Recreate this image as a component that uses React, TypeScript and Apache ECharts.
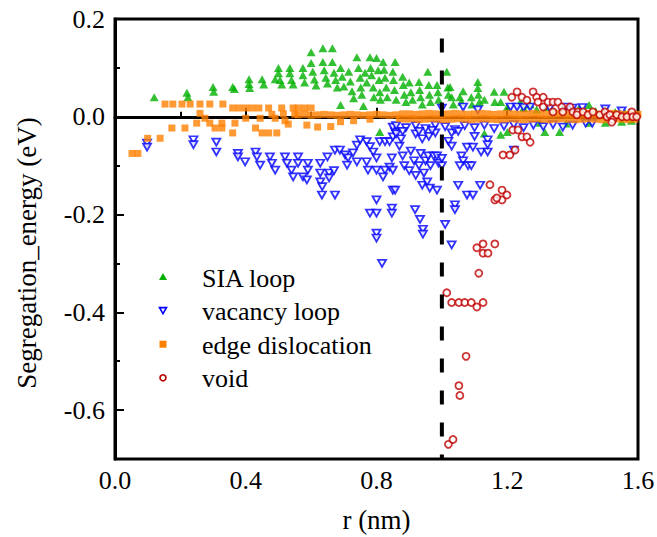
import React, { useEffect, useRef } from "react";
import * as echarts from "echarts";

const FONT = "Liberation Serif";

const seriesNames = ["SIA loop", "vacancy loop", "edge dislocation", "void"];
const xTickLabels = [0, 0.4, 0.8, 1.2, 1.6];
const yMajorTicks = [0.2, 0, -0.2, -0.4, -0.6];
const yMinorTicks = [0.1, -0.1, -0.3, -0.5];
const xAxisTitle = "r (nm)";
const yAxisTitle = "Segregation_energy (eV)";
const dashX = [1.0, 1.0];
const dashY = [0.16, -0.7];

const siaLoop = [
  [0.12, 0.04], [0.22, 0.049], [0.223, 0.04], [0.3, 0.061], [0.302, 0.051],
  [0.36, 0.061], [0.365, 0.057], [0.41, 0.077], [0.41, 0.067], [0.412, 0.059],
  [0.45, 0.077], [0.455, 0.066], [0.49, 0.077], [0.5, 0.1], [0.5, 0.089],
  [0.505, 0.075], [0.51, 0.066], [0.535, 0.1], [0.535, 0.089], [0.54, 0.075],
  [0.545, 0.066], [0.575, 0.1], [0.575, 0.085], [0.58, 0.07], [0.6, 0.132],
  [0.6, 0.11], [0.605, 0.092], [0.61, 0.076], [0.615, 0.064], [0.636, 0.14],
  [0.636, 0.112], [0.64, 0.095], [0.645, 0.08], [0.65, 0.068], [0.665, 0.14],
  [0.665, 0.112], [0.67, 0.09], [0.675, 0.075], [0.68, 0.06], [0.69, 0.1],
  [0.695, 0.082], [0.7, 0.062], [0.69, 0.024], [0.715, 0.092], [0.72, 0.072],
  [0.725, 0.052], [0.73, 0.038], [0.74, 0.122], [0.745, 0.1], [0.75, 0.08],
  [0.752, 0.06], [0.755, 0.045], [0.76, 0.022], [0.765, 0.09], [0.77, 0.07],
  [0.78, 0.122], [0.782, 0.1], [0.785, 0.085], [0.79, 0.06], [0.792, 0.04],
  [0.8, 0.12], [0.805, 0.095], [0.808, 0.075], [0.81, 0.05], [0.812, 0.035],
  [0.81, -0.031], [0.82, 0.112], [0.823, 0.096], [0.826, 0.08], [0.83, 0.06],
  [0.833, 0.04], [0.85, 0.092], [0.852, 0.075], [0.855, 0.055], [0.86, 0.035],
  [0.857, 0.112], [0.88, 0.082], [0.882, 0.065], [0.885, 0.045], [0.89, 0.03],
  [0.9, 0.07], [0.905, 0.05], [0.91, 0.035], [0.93, 0.071], [0.932, 0.055],
  [0.935, 0.04], [0.94, 0.025], [0.957, 0.092], [0.96, 0.065], [0.962, 0.045],
  [0.965, 0.03], [0.985, 0.065], [0.988, 0.05], [0.99, 0.035], [1.015, 0.092],
  [1.018, 0.06], [1.02, 0.045], [1.025, 0.061], [1.03, 0.04], [1.035, 0.025],
  [1.055, 0.04], [1.06, 0.03], [1.065, 0.052], [1.09, 0.04], [1.092, 0.025],
  [1.11, 0.071], [1.11, 0.059], [1.112, 0.045], [1.115, 0.03], [1.13, 0.035],
  [1.13, -0.034], [1.16, 0.051], [1.162, 0.03], [1.18, 0.03], [1.18, -0.037],
  [1.19, 0.051], [1.2, 0.02], [1.2, -0.031], [1.24, 0.03], [1.25, 0.018],
  [1.27, 0.025], [1.29, 0.015], [1.315, -0.031], [1.32, 0.02], [1.34, 0.012],
  [1.36, -0.031], [1.37, 0.018], [1.4, 0.012], [1.42, 0.018], [1.45, 0.024],
  [1.47, 0.012], [1.5, 0.014], [1.53, 0.01], [1.56, 0.008], [1.59, 0.006],
  [1.3, -0.012], [1.38, -0.014], [1.45, -0.012], [1.5, -0.012], [1.55, -0.01],
  [1.58, -0.008],
];

const vacancyLoop = [
  [0.098, -0.054], [0.098, -0.062], [0.24, -0.047], [0.24, -0.057], [0.31, -0.052],
  [0.31, -0.072], [0.376, -0.075], [0.376, -0.082], [0.398, -0.092], [0.43, -0.072],
  [0.434, -0.082], [0.444, -0.099], [0.474, -0.082], [0.48, -0.095], [0.49, -0.109],
  [0.52, -0.082], [0.526, -0.095], [0.54, -0.109], [0.545, -0.123], [0.56, -0.082],
  [0.56, -0.095], [0.59, -0.095], [0.59, -0.109], [0.575, -0.123], [0.587, -0.129],
  [0.628, -0.095], [0.628, -0.115], [0.628, -0.133], [0.634, -0.143], [0.65, -0.082],
  [0.655, -0.115], [0.655, -0.125], [0.67, -0.11], [0.633, -0.16], [0.673, -0.16],
  [0.673, -0.068], [0.688, -0.068], [0.704, -0.078], [0.713, -0.084], [0.728, -0.074],
  [0.74, -0.058], [0.75, -0.047], [0.77, -0.051], [0.78, -0.061], [0.79, -0.072],
  [0.8, -0.084], [0.81, -0.051], [0.826, -0.051], [0.84, -0.051], [0.85, -0.041],
  [0.857, -0.031], [0.85, -0.021], [0.71, -0.099], [0.74, -0.092], [0.77, -0.092],
  [0.774, -0.109], [0.8, -0.109], [0.826, -0.109], [0.84, -0.103], [0.847, -0.084],
  [0.85, -0.109], [0.82, -0.123], [0.8, -0.17], [0.78, -0.197], [0.8, -0.197],
  [0.8, -0.238], [0.8, -0.248], [0.817, -0.3], [0.847, -0.187], [0.847, -0.197],
  [0.85, -0.15], [0.857, -0.15], [0.918, -0.19], [0.933, -0.21], [0.942, -0.23],
  [0.942, -0.24], [1.01, -0.22], [1.03, -0.262], [1.04, -0.18], [1.04, -0.19],
  [1.05, -0.14], [1.077, -0.16], [1.095, -0.16], [1.117, -0.14], [0.94, -0.14],
  [0.955, -0.133], [0.963, -0.146], [0.985, -0.15], [0.87, -0.06], [0.88, -0.08],
  [0.885, -0.1], [0.9, -0.11], [0.905, -0.07], [0.915, -0.09], [0.92, -0.12],
  [0.93, -0.1], [0.935, -0.075], [0.945, -0.115], [0.95, -0.09], [0.958, -0.08],
  [0.965, -0.1], [0.975, -0.08], [0.985, -0.08], [0.99, -0.095], [1.0, -0.1],
  [1.0, -0.085], [1.06, -0.08], [1.065, -0.09], [1.055, -0.1], [1.077, -0.062],
  [1.095, -0.062], [1.08, -0.1], [1.09, -0.1], [1.12, -0.072], [1.14, -0.072],
  [1.14, -0.047], [1.14, -0.057], [1.22, -0.068], [1.02, -0.05], [1.03, -0.06],
  [1.1, -0.04], [0.86, -0.035], [0.875, -0.045], [0.92, -0.035], [0.94, -0.045],
  [0.96, -0.04], [0.98, -0.033], [1.03, -0.033],
  [0.86, -0.018], [0.89, -0.022], [0.92, -0.018], [0.95, -0.024], [0.98, -0.017],
  [1.01, -0.02], [1.04, -0.026], [1.07, -0.018], [1.1, -0.022], [1.13, -0.017],
  [1.16, -0.024], [1.19, -0.019], [1.22, -0.016], [1.25, -0.022], [1.28, -0.017],
  [1.31, -0.02], [1.34, -0.016], [1.37, -0.021], [1.4, -0.017], [1.44, -0.013],
  [1.46, -0.013], [0.88, -0.03], [0.93, -0.03], [0.97, -0.028], [1.05, -0.03],
  [1.0, 0.018], [1.065, 0.02], [1.11, 0.014], [1.21, 0.02], [1.23, 0.02],
  [1.25, 0.019], [1.27, 0.02], [1.33, 0.018], [1.38, 0.02], [1.4, 0.018],
  [1.43, 0.019], [1.5, 0.016], [1.55, 0.012],
];

const edgeDislocation = [
  [0.052, -0.075], [0.07, -0.075], [0.1, -0.044], [0.138, -0.044], [0.174, -0.023],
  [0.214, -0.023], [0.153, 0.026], [0.177, 0.026], [0.205, 0.026], [0.23, 0.026],
  [0.26, 0.026], [0.29, 0.026], [0.33, 0.026], [0.25, -0.013], [0.26, 0.007],
  [0.275, -0.003], [0.29, -0.013], [0.306, -0.023], [0.327, -0.013], [0.327, -0.023],
  [0.367, -0.013], [0.36, -0.033], [0.36, 0.018], [0.38, 0.018], [0.4, 0.018],
  [0.42, 0.018], [0.44, 0.018], [0.47, 0.018], [0.4, -0.003], [0.444, -0.003],
  [0.43, -0.023], [0.45, -0.033], [0.495, -0.033], [0.47, -0.033], [0.48, 0.005],
  [0.49, -0.003], [0.51, 0.018], [0.515, 0.006], [0.52, -0.008], [0.53, -0.015],
  [0.545, 0.018], [0.55, 0.005], [0.56, 0.018], [0.58, 0.018], [0.6, 0.018],
  [0.587, -0.017], [0.62, -0.021], [0.66, -0.02], [0.69, -0.01], [0.73, -0.008],
  [0.78, -0.005],
  [0.56, 0.004], [0.58, 0.005], [0.6, 0.003], [0.62, 0.004], [0.64, 0.005],
  [0.66, 0.004], [0.68, 0.003], [0.7, 0.004], [0.72, 0.005], [0.74, 0.004],
  [0.76, 0.003], [0.78, 0.004], [0.8, 0.005], [0.82, 0.004], [0.84, 0.003],
  [0.86, 0.004], [0.88, 0.006], [0.9, 0.006], [0.92, 0.005], [0.94, 0.006],
  [0.96, 0.007], [0.98, 0.006], [1.0, 0.005], [1.02, 0.006], [1.04, 0.007],
  [1.06, 0.006], [1.08, 0.005], [1.1, 0.006], [1.12, 0.007], [1.14, 0.006],
  [1.16, 0.005], [1.18, 0.006], [1.2, 0.007], [1.22, 0.006], [1.24, 0.005],
  [1.26, 0.006], [1.28, 0.007], [1.3, 0.006], [1.32, 0.005], [1.34, 0.006],
  [1.36, 0.007], [1.38, 0.006], [1.4, 0.005], [1.42, 0.006], [1.44, 0.007],
  [1.46, 0.006], [1.48, 0.005], [1.5, 0.006], [1.52, 0.007], [1.54, 0.006],
  [1.56, 0.005], [1.58, 0.006], [1.6, 0.005],
  [0.87, -0.004], [0.89, -0.005], [0.91, -0.004], [0.93, -0.006], [0.95, -0.005],
  [0.97, -0.004], [0.99, -0.005], [1.01, -0.006], [1.03, -0.005], [1.05, -0.004],
  [1.07, -0.005], [1.09, -0.006], [1.11, -0.005], [1.13, -0.004], [1.15, -0.005],
  [1.17, -0.006], [1.19, -0.005], [1.21, -0.004], [1.23, -0.005], [1.25, -0.006],
  [1.27, -0.005], [1.29, -0.004], [1.31, -0.005], [1.33, -0.006], [1.35, -0.005],
  [1.37, -0.004], [1.39, -0.005], [1.41, -0.006], [1.43, -0.005], [1.45, -0.004],
  [1.47, -0.005], [1.49, -0.006], [1.51, -0.005], [1.53, -0.004], [1.55, -0.005],
  [1.57, -0.006], [1.59, -0.005],
];

const voidPts = [
  [1.015, -0.36], [1.03, -0.38], [1.052, -0.38], [1.07, -0.38], [1.09, -0.38],
  [1.107, -0.389], [1.126, -0.38], [1.074, -0.49], [1.052, -0.55], [1.055, -0.57],
  [1.02, -0.67], [1.034, -0.66], [1.113, -0.32], [1.107, -0.268], [1.126, -0.26],
  [1.126, -0.279], [1.141, -0.279], [1.162, -0.26], [1.147, -0.139], [1.184, -0.15],
  [1.162, -0.17], [1.184, -0.17], [1.199, -0.16], [1.168, -0.166], [1.187, -0.078],
  [1.208, -0.078], [1.224, -0.068], [1.217, -0.027], [1.233, -0.027], [1.245, -0.041],
  [1.26, -0.041], [1.27, -0.052],
  [1.214, 0.04], [1.23, 0.051], [1.245, 0.04], [1.26, 0.034], [1.279, 0.051],
  [1.29, 0.04], [1.31, 0.04], [1.294, 0.03], [1.31, 0.02], [1.325, 0.03],
  [1.34, 0.03], [1.355, 0.03], [1.34, 0.01], [1.367, 0.02], [1.37, 0.01],
  [1.392, 0.02], [1.401, 0.01], [1.416, 0.01], [1.413, 0.004], [1.432, 0.01],
  [1.447, 0.004], [1.462, 0.01], [1.483, 0.004], [1.499, 0.01], [1.505, 0.0],
  [1.514, 0.004], [1.523, -0.006], [1.535, 0.004], [1.551, 0.0], [1.566, 0.0],
  [1.581, 0.01], [1.584, 0.0], [1.596, 0.0], [1.52, -0.011],
];

const black = "#000";
const GREEN = "#00b000";
const BLUE = "#0000ff";
const ORANGE = "#ff8000";
const RED = "#c00000";
const DOWN_TRIANGLE = "path://M0,0L10,0L5,9Z";

const fmt = (v: number) => (Math.abs(v) < 1e-9 ? "0.0" : v.toFixed(1));

export default function App() {
  const ref = useRef<HTMLDivElement>(null);
  useEffect(() => {
    document.body.style.margin = "0";
    const chart = echarts.init(ref.current!, null, { renderer: "svg" });
    const tickLine = { color: black, width: 2 };
    chart.setOption({
      animation: false,
      backgroundColor: "#fff",
      grid: {
        left: 115, right: 19, top: 19, bottom: 78,
        show: true, borderColor: black, borderWidth: 3, backgroundColor: "transparent",
      },
      xAxis: {
        type: "value",
        min: xTickLabels[0],
        max: xTickLabels[xTickLabels.length - 1],
        interval: 0.4,
        axisLine: { show: true, lineStyle: { color: black, width: 3 } },
        axisTick: { show: true, inside: true, length: 9, lineStyle: tickLine },
        minorTick: { show: true, splitNumber: 2, length: 5, lineStyle: tickLine },
        axisLabel: { show: false },
        splitLine: { show: false },
        minorSplitLine: { show: false },
      },
      yAxis: [
        {
          type: "value",
          min: -0.7,
          max: 0.2,
          position: "left",
          axisLine: { show: true, lineStyle: { color: black, width: 3 } },
          axisTick: { show: true, inside: true, length: 9, lineStyle: tickLine, customValues: yMajorTicks },
          axisLabel: { show: false },
          splitLine: { show: false },
        },
        {
          type: "value",
          min: -0.7,
          max: 0.2,
          position: "left",
          axisLine: { show: false },
          axisTick: { show: true, inside: true, length: 5, lineStyle: tickLine, customValues: yMinorTicks },
          axisLabel: { show: false },
          splitLine: { show: false },
        },
      ],
      series: [
        {
          name: seriesNames[0], type: "scatter", data: siaLoop,
          symbol: "triangle", symbolSize: [9, 8],
          itemStyle: { color: GREEN },
        },
        {
          name: seriesNames[1], type: "scatter", data: vacancyLoop,
          symbol: DOWN_TRIANGLE, symbolSize: [8, 7],
          itemStyle: { color: "#fff", borderColor: BLUE, borderWidth: 1.8 },
        },
        {
          name: seriesNames[2], type: "scatter", data: edgeDislocation,
          symbol: "rect", symbolSize: 7,
          itemStyle: { color: ORANGE },
        },
        {
          name: seriesNames[3], type: "scatter", data: voidPts,
          symbol: "circle", symbolSize: 7,
          itemStyle: { color: "#fff", borderColor: RED, borderWidth: 1.8 },
        },
        {
          type: "line",
          data: dashX.map((x, i) => [x, dashY[i]]),
          symbol: "none",
          silent: true,
          z: 10,
          lineStyle: { color: black, width: 4, type: [14, 18] },
        },
      ],
    });

    const px = (v: number) => chart.convertToPixel({ xAxisIndex: 0 }, v) as number;
    const py = (v: number) => chart.convertToPixel({ yAxisIndex: 0 }, v) as number;
    const x0 = px(xTickLabels[0]);
    const x1 = px(xTickLabels[xTickLabels.length - 1]);
    const yBottom = py(-0.7);
    const yTop = py(0.2);
    const txt = (text: string, x: number, y: number, size: number, align: string, vAlign: string, extra: any = {}) => ({
      type: "text",
      x, y,
      silent: true,
      z: 100,
      ...extra,
      style: {
        text, fontFamily: FONT, fontSize: size, fill: black,
        align, verticalAlign: vAlign, textAlign: align, textVerticalAlign: vAlign,
      },
    });

    const graphics: any[] = [];
    xTickLabels.forEach((v) => graphics.push(txt(v.toFixed(1), px(v), yBottom + 8, 26, "center", "top")));
    yMajorTicks.forEach((v) => graphics.push(txt(fmt(v), x0 - 10, py(v), 26, "right", "middle")));
    graphics.push(txt(xAxisTitle, (x0 + x1) / 2, yBottom + 61, 27, "center", "middle"));
    graphics.push(txt(yAxisTitle, 27, (yTop + yBottom) / 2 + 14, 27, "center", "middle", { rotation: Math.PI / 2 }));

    const legendX = 163;
    const legendTop = 277;
    const legendStep = 33.6;
    seriesNames.forEach((name, i) => {
      const cy = legendTop + legendStep * i;
      if (i === 0) {
        graphics.push({ type: "polygon", silent: true, z: 100, shape: { points: [[legendX - 4, cy + 3], [legendX + 4, cy + 3], [legendX, cy - 4]] }, style: { fill: GREEN } });
      } else if (i === 1) {
        graphics.push({ type: "polygon", silent: true, z: 100, shape: { points: [[legendX - 3.5, cy - 3], [legendX + 3.5, cy - 3], [legendX, cy + 3]] }, style: { fill: "#fff", stroke: BLUE, lineWidth: 1.6 } });
      } else if (i === 2) {
        graphics.push({ type: "rect", silent: true, z: 100, shape: { x: legendX - 3.5, y: cy - 3.5, width: 7, height: 7 }, style: { fill: ORANGE } });
      } else {
        graphics.push({ type: "circle", silent: true, z: 100, shape: { cx: legendX, cy, r: 3 }, style: { fill: "#fff", stroke: RED, lineWidth: 1.6 } });
      }
      graphics.push(txt(name, 202, cy + 1, 26, "left", "middle"));
    });

    chart.setOption({ graphic: graphics });
    return () => chart.dispose();
  }, []);
  return <div ref={ref} style={{ width: 657, height: 537 }} />;
}
